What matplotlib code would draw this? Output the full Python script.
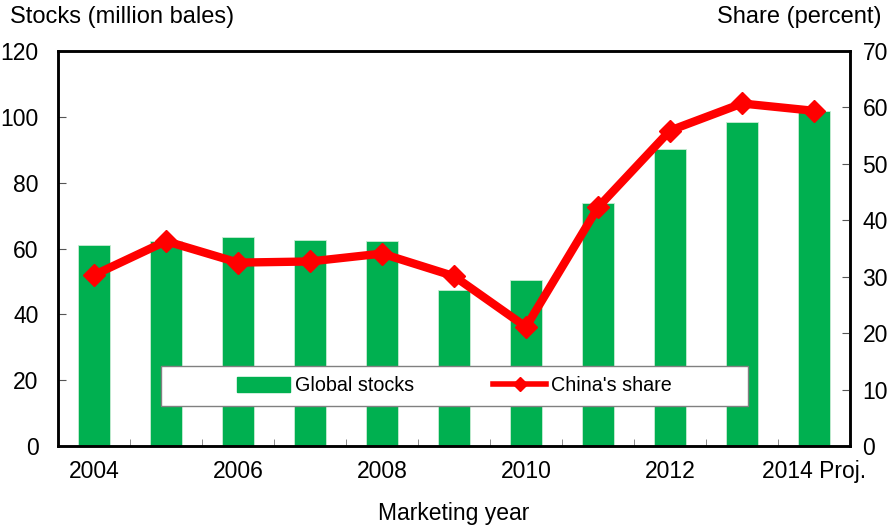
import numpy as np
import matplotlib.pyplot as plt
from matplotlib.lines import Line2D
from matplotlib.patches import Patch, Rectangle

plt.rcParams['font.family'] = ['Liberation Sans', 'DejaVu Sans']

years = ['2004', '2005', '2006', '2007', '2008', '2009', '2010',
         '2011', '2012', '2013', '2014 Proj.']
global_stocks = [61.1, 62.3, 63.4, 62.6, 62.3, 47.4, 50.5, 73.8, 90.3, 98.3, 101.9]
china_share = [30.3, 36.3, 32.5, 32.7, 34.1, 30.1, 21.1, 42.3, 55.9, 60.7, 59.4]

green = '#00b050'
red = '#ff0000'
fs = 16.5

fig = plt.figure(figsize=(8.95, 5.25), dpi=100)
ax = fig.add_axes([58/895, 79/525, 792/895, 395/525])
x = np.arange(len(years))

ax.bar(x, global_stocks, width=0.44, color=green, edgecolor='#c8ecd4', linewidth=0.6, zorder=2)
ax.set_xlim(-0.5, len(years) - 0.5)
ax.set_ylim(0, 120)
ax.set_yticks(range(0, 121, 20))
ax.tick_params(axis='y', direction='in', length=6, labelsize=fs, pad=14, color='#555555')

# year labels every other bar, tick marks at bar boundaries
ax.set_xticks(x[::2])
ax.set_xticklabels([years[i] for i in x[::2]])
ax.tick_params(axis='x', length=0, labelsize=fs, pad=10)
ax.set_xticks(np.arange(-0.5, len(years)), minor=True)
ax.tick_params(axis='x', which='minor', direction='in', length=5, color='#777777')
ax.set_xlabel('Marketing year', fontsize=fs, labelpad=14)

for s in ax.spines.values():
    s.set_linewidth(1.8)

ax2 = ax.twinx()
ax2.plot(x, china_share, color=red, linewidth=6, marker='D', markersize=11, zorder=3)
ax2.set_ylim(0, 70)
ax2.set_yticks(range(0, 71, 10))
ax2.tick_params(axis='y', direction='in', length=6, labelsize=fs, pad=9, color='#555555')
for s in ax2.spines.values():
    s.set_linewidth(1.8)

fig.text(10/895, 1 - 17/525, 'Stocks (million bales)', fontsize=17, va='center', ha='left')
fig.text(882/895, 1 - 17/525, 'Share (percent)', fontsize=17, va='center', ha='right')

# legend box across the lower part of the plot
box = Rectangle((0.13, 0.101), 0.741, 0.102, transform=ax2.transAxes,
                facecolor='white', edgecolor='#808080', linewidth=1, zorder=4)
ax2.add_patch(box)
handles = [Patch(color=green),
           Line2D([], [], color=red, linewidth=4, marker='D', markersize=7)]
leg = ax2.legend(handles, ['Global stocks', "China's share"], ncol=2,
                 loc='center', bbox_to_anchor=(0.13, 0.101, 0.741, 0.102),
                 frameon=False, fontsize=14.2,
                 handlelength=2.7, handleheight=0.8, handletextpad=0.25,
                 columnspacing=4)
leg.set_zorder(5)

fig.savefig('out.png', dpi=100)
